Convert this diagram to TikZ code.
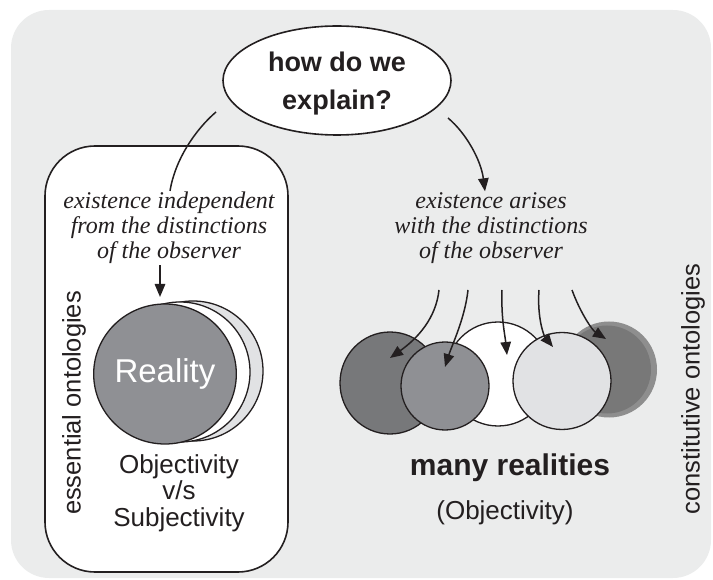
\documentclass[tikz,border=0pt]{standalone}
\usepackage{fontspec}
\setmainfont{Liberation Serif}
\setsansfont{Liberation Sans}
\usetikzlibrary{arrows.meta,shapes.geometric}
\definecolor{ink}{HTML}{231F20}
\definecolor{panel}{HTML}{EBECEC}
\definecolor{discmid}{HTML}{8F9094}
\definecolor{discdark}{HTML}{77787A}
\definecolor{disclight}{HTML}{E1E2E4}
\definecolor{discback}{HTML}{787878}
\definecolor{discrim}{HTML}{8E8E8E}
\begin{document}
\begin{tikzpicture}[x=1pt,y=-1pt,
  line/.style={line width=1.5pt, draw=ink},
  arr/.style={line, -{Triangle[length=13pt,width=10.5pt]}},
  disc/.style={ellipse, line width=1.3pt, draw=ink, inner sep=0pt},
  itext/.style={align=center, inner sep=1pt, text=ink,
    font=\itshape\fontsize{24}{25}\selectfont},
  stext/.style={align=center, inner sep=0pt, text=ink,
    font=\sffamily\fontsize{26}{26.5}\selectfont},
  sidelabel/.style={rotate=90, inner sep=0pt, text=ink,
    font=\sffamily\fontsize{25.5}{26}\selectfont}
]
\useasboundingbox (0,0) rectangle (713,580);
% panel
\fill[panel, rounded corners=38pt] (11,10) rectangle (711,578);

% question
\node[ellipse, line width=1.6pt, draw=ink, fill=white, minimum width=228pt,
  minimum height=109pt, inner sep=0pt] (q) at (337,80.5) {};
\node[align=center, inner sep=0pt, text=ink,
  font=\sffamily\bfseries\fontsize{27}{38}\selectfont] (qt) at (337,84) {how do we\\explain?};

% essential ontologies
\node[draw=ink, line width=1.6pt, fill=white, rounded corners=50pt,
  minimum width=243pt, minimum height=426pt, inner sep=0pt] (essbox) at (166.5,359) {};
\node[itext] (indep) at (169,228) {existence independent\\from the distinctions\\of the observer};
\coordinate (lstart) at (216,112);
\draw[line] (lstart) .. controls (195,130) and (175,160) .. (indep.north -| 170,0);

\node[disc, fill=disclight, minimum width=140pt, minimum height=140pt] (rb2) at (193,371) {};
\node[disc, fill=white, minimum width=140pt, minimum height=140pt] (rb1) at (180,372) {};
\node[disc, fill=discmid, minimum width=140pt, minimum height=140pt, text=white,
  font=\sffamily\fontsize{33}{33}\selectfont] (real) at (165,374) {Reality};
\coordinate (rtip) at (160,297);
\draw[arr] (indep.south -| rtip) -- (rtip);

\node[stext] (objsub) at (179,493) {Objectivity\\v/s\\Subjectivity};
\node[sidelabel] (ess) at (74,403) {essential ontologies};

% constitutive ontologies
\node[itext] (arise) at (491,228) {existence arises\\with the distinctions\\of the observer};
\coordinate (rstart) at (448,118);
\draw[arr] (rstart) .. controls (466,133) and (481,160) .. (arise.north -| 485,0);

\fill[discrim] (609,369.5) circle (48);
\node[circle, fill=discback, minimum size=88pt, inner sep=0pt] (e) at (607,369.5) {};
\node[disc, fill=white, minimum width=104pt, minimum height=104pt] (c) at (498,374) {};
\node[disc, fill=discdark, minimum width=100pt, minimum height=102pt] (a) at (390,383) {};
\node[disc, fill=discmid, minimum width=88pt, minimum height=88pt] (b) at (445,386) {};
\node[disc, fill=disclight, minimum width=98pt, minimum height=97pt] (d) at (562,381) {};

\coordinate (s1) at (439,290);
\coordinate (s2) at (468,290);
\coordinate (s3) at (502,290);
\coordinate (s4) at (539,290);
\coordinate (s5) at (572,290);
\coordinate (t1) at (390,358);
\coordinate (t2) at (445,367);
\coordinate (t3) at (507,355);
\coordinate (t4) at (553,347);
\coordinate (t5) at (606,339);
\draw[arr] (s1) .. controls (436,318) and (418,338) .. (t1);
\draw[arr] (s2) .. controls (465,318) and (452,345) .. (t2);
\draw[arr] (s3) .. controls (501,318) and (505,335) .. (t3);
\draw[arr] (s4) .. controls (537,318) and (544,336) .. (t4);
\draw[arr] (s5) .. controls (580,312) and (592,330) .. (t5);

\node[inner sep=0pt, text=ink, font=\sffamily\bfseries\fontsize{30}{30}\selectfont]
  (many) at (510,468) {many realities};
\node[stext] (obj) at (505,513) {(Objectivity)};
\node[sidelabel] (cons) at (693,389) {constitutive ontologies};
\end{tikzpicture}
\end{document}
